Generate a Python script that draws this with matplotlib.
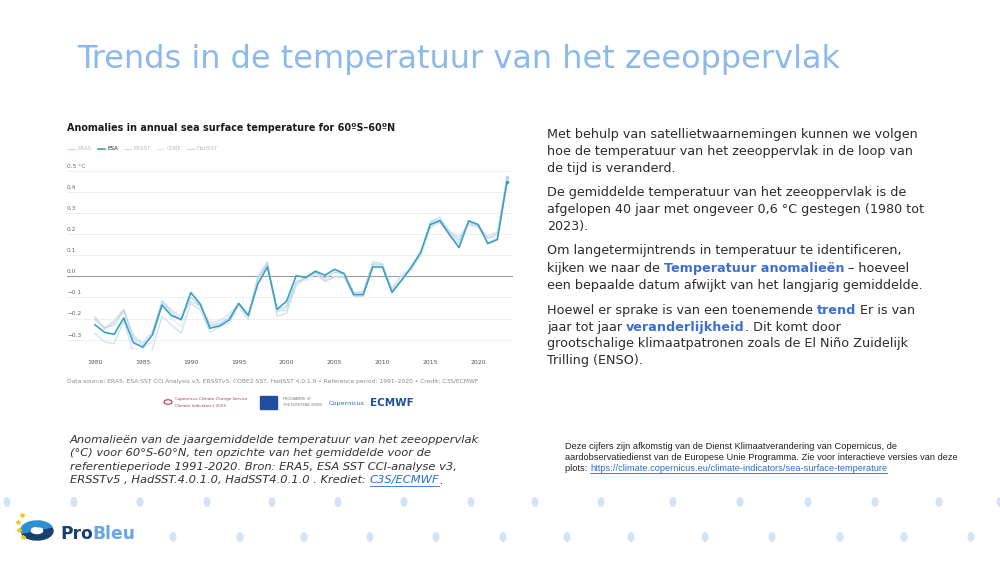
import matplotlib.pyplot as plt
from matplotlib.patches import Ellipse, Rectangle, Wedge, Circle
from matplotlib.lines import Line2D

# ---- data ----
years = list(range(1980, 2024))
esa = [-0.23, -0.265, -0.275, -0.197, -0.314, -0.336, -0.276, -0.136, -0.186, -0.205,
       -0.077, -0.132, -0.246, -0.235, -0.207, -0.128, -0.185, -0.036, 0.044, -0.156,
       -0.118, 0.003, -0.006, 0.024, 0.005, 0.033, 0.013, -0.087, -0.087, 0.044,
       0.044, -0.076, -0.019, 0.043, 0.114, 0.245, 0.263, 0.197, 0.136, 0.263,
       0.245, 0.155, 0.174, 0.446]
era5 = [-0.20, -0.245, -0.23, -0.16, -0.29, -0.325, -0.28, -0.12, -0.17, -0.21,
        -0.10, -0.14, -0.235, -0.225, -0.195, -0.13, -0.19, -0.01, 0.06, -0.16,
        -0.14, -0.03, -0.005, 0.02, -0.01, 0.02, 0.01, -0.075, -0.08, 0.06,
        0.055, -0.07, -0.015, 0.04, 0.11, 0.255, 0.27, 0.21, 0.17, 0.255,
        0.24, 0.18, 0.20, 0.47]
ersst = [-0.19, -0.25, -0.21, -0.155, -0.28, -0.315, -0.26, -0.115, -0.16, -0.195,
         -0.12, -0.14, -0.22, -0.21, -0.18, -0.13, -0.18, 0.0, 0.07, -0.165,
         -0.16, -0.03, -0.01, 0.015, -0.02, -0.005, 0.0, -0.08, -0.07, 0.07,
         0.06, -0.06, 0.01, 0.03, 0.11, 0.26, 0.28, 0.215, 0.185, 0.25,
         0.235, 0.19, 0.21, 0.465]
cobe = [-0.21, -0.24, -0.22, -0.17, -0.30, -0.34, -0.31, -0.14, -0.20, -0.24,
        -0.13, -0.15, -0.23, -0.22, -0.20, -0.14, -0.19, -0.02, 0.04, -0.17,
        -0.15, -0.02, -0.02, 0.01, -0.02, 0.0, 0.0, -0.08, -0.08, 0.05,
        0.05, -0.06, 0.0, 0.03, 0.10, 0.24, 0.26, 0.20, 0.17, 0.24,
        0.23, 0.18, 0.19, 0.46]
hadsst = [-0.27, -0.31, -0.32, -0.21, -0.365, -0.375, -0.345, -0.19, -0.23, -0.27,
          -0.13, -0.16, -0.265, -0.24, -0.22, -0.14, -0.205, -0.015, 0.055, -0.19,
          -0.175, -0.045, -0.01, 0.01, -0.025, -0.005, -0.005, -0.095, -0.095, 0.055,
          0.05, -0.075, -0.015, 0.03, 0.10, 0.23, 0.255, 0.20, 0.155, 0.245,
          0.235, 0.16, 0.18, 0.465]
series_names = ['ERA5', 'ESA', 'ERSST', 'COBE', 'HadSST']
series_colors = ['#b4d8e4', '#3a9fc6', '#d4d8ee', '#e6e9eb', '#c2e1ec']
yticks = [0.5, 0.4, 0.3, 0.2, 0.1, 0.0, -0.1, -0.2, -0.3]
ytick_labels = ['0.5 °C', '0.4', '0.3', '0.2', '0.1', '0.0', '−0.1', '−0.2', '−0.3']
xticks = [1980, 1985, 1990, 1995, 2000, 2005, 2010, 2015, 2020]

W, H = 1000, 563
fig = plt.figure(figsize=(10, 5.63), dpi=100)
fig.patch.set_facecolor('white')


def fx(x):
    return x / W


def fy(y):
    return 1 - y / H


# ---- title ----
fig.text(fx(77), fy(68), 'Trends in de temperatuur van het zeeoppervlak',
         fontsize=23, color='#8cb9ec', va='baseline', ha='left')

# ---- chart ----
fig.text(fx(67), fy(128), 'Anomalies in annual sea surface temperature for 60ºS–60ºN',
         fontsize=6.9, fontweight='bold', color='#1a1a1a', va='center')

ax = fig.add_axes([fx(67), fy(350), (513 - 67) / W, (350 - 165) / H])
ax.set_xlim(1977.08, 2023.63)
ax.set_ylim(-0.349, 0.527)
for s in ax.spines.values():
    s.set_visible(False)
for v, lab in zip(yticks, ytick_labels):
    ax.axhline(v, color='#9a9a9a' if v == 0 else '#ececec', lw=0.8 if v == 0 else 0.6, zorder=0)
    ax.text(0.0, v + 0.022, lab, transform=ax.get_yaxis_transform(),
            fontsize=4.2, color='#666666', ha='left', va='center')
ax.set_yticks([])
ax.set_xticks(xticks)
ax.set_xticklabels([str(t) for t in xticks], fontsize=4.4, color='#555555')
ax.tick_params(axis='x', length=0, pad=7)

all_series = [era5, esa, ersst, cobe, hadsst]
order = [4, 3, 2, 0, 1]
handles = {}
for i in order:
    lw = 1.2 if series_names[i] == 'ESA' else 0.8
    z = 3 if series_names[i] == 'ESA' else 2
    ln, = ax.plot(years, all_series[i], color=series_colors[i], lw=lw, zorder=z)
    ax.plot(years[-1], all_series[i][-1], 'o', ms=1.6, color=series_colors[i], zorder=z)
    handles[i] = ln

leg = fig.legend([handles[i] for i in range(5)], series_names, loc='center left',
                 bbox_to_anchor=(fx(63), fy(149)), ncol=5, frameon=False, fontsize=4,
                 handlelength=1.3, handletextpad=0.4, columnspacing=1.1)
for i, t in enumerate(leg.get_texts()):
    t.set_color('#222222' if series_names[i] == 'ESA' else '#bbbbbb')

fig.text(fx(67), fy(381), 'Data source: ERA5, ESA SST CCI Analysis v3, ERSSTv5, COBE2-SST, HadSST 4.0.1.0 • '
         'Reference period: 1991–2020 • Credit: C3S/ECMWF', fontsize=4.3, color='#888888', va='center')

# logos row (approximate)
fig.patches.append(Circle((fx(168), fy(402)), 0.004, transform=fig.transFigure,
                          fill=False, ec='#a8385a', lw=0.8))
fig.text(fx(175), fy(399), 'Copernicus Climate Change Service', fontsize=2.9, color='#a8385a', va='center')
fig.text(fx(175), fy(405.5), 'Climate Indicators | 2023', fontsize=2.9, color='#a8385a', va='center')
fig.patches.append(Rectangle((fx(260), fy(409)), 17 / W, 13 / H, transform=fig.transFigure,
                             color='#1f4f9e'))
fig.text(fx(283), fy(399.5), 'PROGRAMME OF', fontsize=2.4, color='#777777', va='center')
fig.text(fx(283), fy(405), 'THE EUROPEAN UNION', fontsize=2.4, color='#777777', va='center')
fig.text(fx(329), fy(403), 'Copernicus', fontsize=4.6, color='#2a6cb0', va='center')
fig.text(fx(370), fy(403), 'ECMWF', fontsize=7.5, fontweight='bold', color='#1f4fa0', va='center')

# ---- text helpers ----
renderer = fig.canvas.get_renderer()


def run_width(s, **kw):
    t = fig.text(0, 0, s.replace(' ', '\u00a0'), **kw)
    w = t.get_window_extent(renderer).width
    t.remove()
    return w


def put_runs(x, y, runs, size, family='DejaVu Sans', style='normal'):
    for s, color, weight in runs:
        kw = dict(fontsize=size, color=color, fontweight=weight, family=family, fontstyle=style)
        fig.text(fx(x), fy(y), s.replace(' ', '\u00a0'), va='baseline', ha='left', **kw)
        x += run_width(s, **kw)
    return x


def underline(x0, x1, y, color):
    fig.lines.append(Line2D([fx(x0), fx(x1)], [fy(y), fy(y)], transform=fig.transFigure,
                            color=color, lw=0.6))


# ---- caption ----
cap_lines = ['Anomalieën van de jaargemiddelde temperatuur van het zeeoppervlak',
             '(°C) voor 60°S-60°N, ten opzichte van het gemiddelde voor de',
             'referentieperiode 1991-2020. Bron: ERA5, ESA SST CCI-analyse v3,']
cap_y = [443, 456.5, 470, 483.5]
for line, y in zip(cap_lines, cap_y):
    put_runs(70, y, [(line, '#333333', 'normal')], 8.25, style='italic')
x0 = put_runs(70, cap_y[3], [('ERSSTv5 , HadSST.4.0.1.0, HadSST4.0.1.0 . Krediet: ', '#333333', 'normal')],
              8.25, style='italic')
x1 = put_runs(x0, cap_y[3], [('C3S/ECMWF', '#2a6dd1', 'normal')], 8.25, style='italic')
put_runs(x1, cap_y[3], [('.', '#333333', 'normal')], 8.25, style='italic')
underline(x0, x1, cap_y[3] + 2, '#2a6dd1')

# ---- right-hand paragraphs ----
txt = '#2b2b2b'
blue = '#3c6fd1'
para = [
    (138, [('Met behulp van satellietwaarnemingen kunnen we volgen', txt, 'normal')]),
    (155, [('hoe de temperatuur van het zeeoppervlak in de loop van', txt, 'normal')]),
    (172, [('de tijd is veranderd.', txt, 'normal')]),
    (196, [('De gemiddelde temperatuur van het zeeoppervlak is de', txt, 'normal')]),
    (213, [('afgelopen 40 jaar met ongeveer 0,6 °C gestegen (1980 tot', txt, 'normal')]),
    (230, [('2023).', txt, 'normal')]),
    (254, [('Om langetermijntrends in temperatuur te identificeren,', txt, 'normal')]),
    (272, [('kijken we naar de ', txt, 'normal'), ('Temperatuur anomalieën', blue, 'bold'),
           (' – hoeveel', txt, 'normal')]),
    (289, [('een bepaalde datum afwijkt van het langjarig gemiddelde.', txt, 'normal')]),
    (314, [('Hoewel er sprake is van een toenemende ', txt, 'normal'), ('trend', blue, 'bold'),
           (' Er is van', txt, 'normal')]),
    (331, [('jaar tot jaar ', txt, 'normal'), ('veranderlijkheid', blue, 'bold'),
           ('. Dit komt door', txt, 'normal')]),
    (347, [('grootschalige klimaatpatronen zoals de El Niño Zuidelijk', txt, 'normal')]),
    (364, [('Trilling (ENSO).', txt, 'normal')]),
]
for y, runs in para:
    put_runs(547, y, runs, 9.2)

# ---- source notice ----
src = ['Deze cijfers zijn afkomstig van de Dienst Klimaatverandering van Copernicus, de',
       'aardobservatiedienst van de Europese Unie Programma. Zie voor interactieve versies van deze']
for line, y in zip(src, [449, 460]):
    put_runs(565, y, [(line, '#222222', 'normal')], 6.65, family='Liberation Sans')
xa = put_runs(565, 471, [('plots: ', '#222222', 'normal')], 6.65, family='Liberation Sans')
xb = put_runs(xa, 471, [('https://climate.copernicus.eu/climate-indicators/sea-surface-temperature',
                         '#2a6dd1', 'normal')], 6.65, family='Liberation Sans')
underline(xa, xb, 472.5, '#2a6dd1')

# ---- footer decoration ----
drop = '#d2e3f5'
row1 = [7, 74, 140, 207, 272, 338, 404, 471, 535, 601, 673, 740, 808, 875, 939, 1000]
row2 = [173, 240, 304, 370, 436, 503, 567, 631, 705, 772, 840, 904, 971]
for xs, y in [(row1, 502), (row2, 537)]:
    for x in xs:
        fig.patches.append(Ellipse((fx(x), fy(y)), 7 / W, 10 / H, transform=fig.transFigure,
                                   color=drop, lw=0))

# ProBleu logo
fig.patches.append(Wedge((fx(37), fy(531)), 0.016, 200, 20, width=0.009,
                         transform=fig.transFigure, color='#17406f'))
fig.patches.append(Wedge((fx(37), fy(530)), 0.016, 20, 200, width=0.009,
                         transform=fig.transFigure, color='#2b8fd3'))
fig.patches.append(Circle((fx(39), fy(524)), 0.005, transform=fig.transFigure, color='#2b8fd3'))
for sx, sy in [(22, 515), (18, 522), (19, 530), (23, 537)]:
    fig.lines.append(Line2D([fx(sx)], [fy(sy)], marker='*', ms=3, color='#f5c518',
                            transform=fig.transFigure, lw=0))
xp = put_runs(60, 539, [('Pro', '#17406f', 'bold')], 12.3)
put_runs(xp, 539, [('Bleu', '#6aa6e2', 'bold')], 12.3)

fig.savefig('out.png', dpi=100, facecolor='white')
